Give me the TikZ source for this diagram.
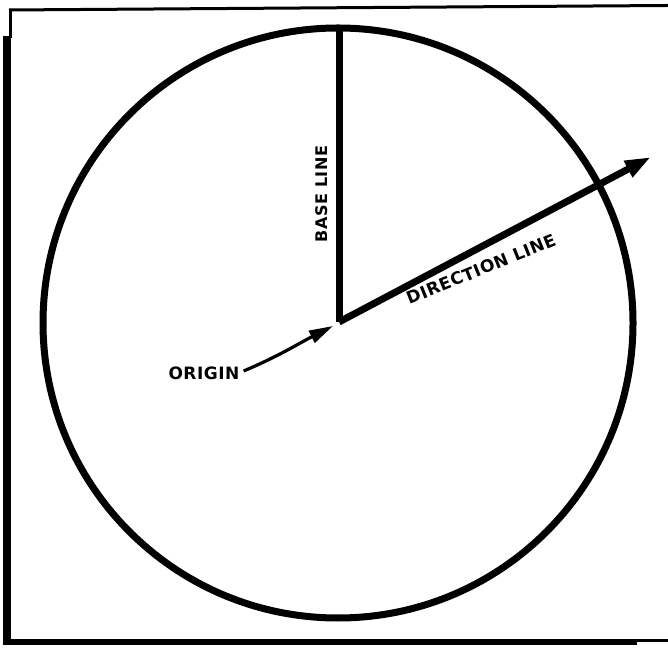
\documentclass[tikz,border=0pt]{standalone}
\usepackage{fontspec}
\setmainfont{DejaVu Sans}
\newfontfamily\lblfont[LetterSpace=3]{DejaVu Sans Bold}
\usetikzlibrary{arrows.meta}
\begin{document}
\begin{tikzpicture}[x=1pt,y=1pt,
  framethin/.style={line width=3pt},
  framethick/.style={line width=7.5pt},
  heavy/.style={line width=7pt},
  lbl/.style={font=\lblfont\fontsize{17}{17}\selectfont, inner sep=0pt}]
\useasboundingbox (0,0) rectangle (668,647);
% frame
\draw[framethin] (9,637) -- (668,641.5);
\draw[framethin] (10,638) -- (10,609);
\draw[framethick] (7,611) -- (7,2);
\draw[line width=6pt] (3.5,5) -- (637,5);
\draw[framethin] (636,6.5) -- (668,6.5);
% circle
\coordinate (C) at (338,324);
\draw[heavy] (C) circle[radius=295];
% origin and lines
\coordinate (O) at (339,325);
\coordinate (T) at (339,619);
\coordinate (D) at (651,490);
\draw[heavy, line cap=butt] (O) -- (T);
\draw[heavy, -{Triangle[length=26pt,width=17pt]}] (O) -- (D);
% labels
\node[lbl, font=\lblfont\fontsize{16}{16}\selectfont, rotate=90] (base) at (322,453) {BASE LINE};
\node[lbl, rotate=22] (dir) at (481,378) {DIRECTION LINE};
\node[lbl] (orig) at (204,274) {ORIGIN};
\coordinate (otip) at (333,321);
\draw[line width=3.2pt, -{Triangle[length=24pt,width=13pt]}] (orig.east) ++(4,2) to[out=23,in=207] (otip);
\end{tikzpicture}
\end{document}
